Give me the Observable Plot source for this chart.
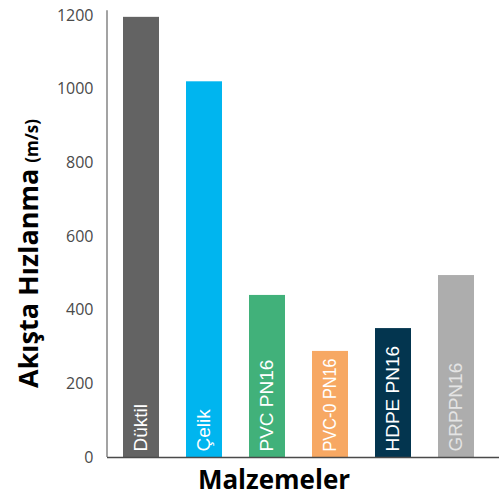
<!DOCTYPE html>
<html>
<head>
<meta charset="utf-8">
<script src="https://cdn.jsdelivr.net/npm/d3@7"></script>
<script src="https://cdn.jsdelivr.net/npm/@observablehq/plot@0.6"></script>
<style>
  html, body { margin: 0; padding: 0; background: #fff; }
  #chart { width: 499px; height: 496px; }
  #chart g[aria-label="text"] text { font-family: "Liberation Sans", Arial, sans-serif; }
  #chart g[aria-label="y-axis tick label"] text { font-family: "Open Sans", sans-serif; }
</style>
</head>
<body>
<div id="chart"></div>
<script>
const categories = ["Düktil", "Çelik", "PVC PN16", "PVC-0 PN16", "HDPE PN16", "GRPPN16"];
const values = [1195, 1020, 440, 288, 350, 494];
const barColors = ["#636363", "#00b5ef", "#41b17a", "#f7a863", "#03354f", "#adadad"];
const labelColors = ["#ffffff", "#ffffff", "#ffffff", "#ffffff", "#ffffff", "#e4e4e4"];
const yTicks = [0, 200, 400, 600, 800, 1000, 1200];
const yTitle = "Akışta Hızlanma";
const yUnit = "(m/s)";
const xTitle = "Malzemeler";

const data = categories.map((c, i) => ({cat: c, value: values[i], color: barColors[i], lab: labelColors[i]}));

const W = 499, H = 496, ML = 107;
const chart = Plot.plot({
  width: W,
  height: H,
  marginLeft: ML,
  marginRight: 0,
  marginTop: 15,
  marginBottom: 39,
  style: {background: "#fff", fontFamily: "Open Sans"},
  x: {domain: categories, range: [107, 490], paddingInner: 0.43, paddingOuter: 0.25, axis: null},
  y: {domain: [0, 1200], axis: null},
  marks: [
    Plot.barY(data, {x: "cat", y: "value", fill: "color"}),
    Plot.axisY({ticks: yTicks, tickSize: 0, tickPadding: 14, tickFormat: d => String(d), fontSize: 16, fill: "#4a4a4a", label: null}),
    Plot.ruleY([0], {stroke: "#4a4a4a", strokeWidth: 1.5}),
    Plot.text(data, {x: "cat", y: 0, text: "cat", rotate: -90, textAnchor: "start", dy: -6, dx: -1, fill: "lab", fontSize: 19})
  ]
});

document.getElementById("chart").appendChild(chart);
const svg = d3.select(chart);
const y = chart.scale("y");

// vertical axis line
svg.append("line")
  .attr("x1", ML).attr("x2", ML)
  .attr("y1", y.apply(1213)).attr("y2", y.apply(0))
  .attr("stroke", "#666").attr("stroke-width", 1.2);

// squeeze bar labels that do not fit inside their bar
svg.selectAll('g[aria-label="text"] text').each(function(d, i) {
  const avail = (y.apply(0) - y.apply(values[i])) - 13;
  const len = this.getComputedTextLength();
  if (len > avail) {
    this.setAttribute("textLength", avail);
    this.setAttribute("lengthAdjust", "spacingAndGlyphs");
  }
});

svg.append("text")
  .attr("transform", "translate(38,388) rotate(-90)")
  .attr("text-anchor", "start")
  .attr("font-family", "Open Sans")
  .attr("font-weight", "bold")
  .attr("fill", "#000")
  .call(t => {
    t.append("tspan").attr("font-size", 27).text(yTitle);
    t.append("tspan").attr("font-size", 17).attr("dx", 6).text(yUnit);
  });
svg.append("text")
  .attr("x", 274)
  .attr("y", 489)
  .attr("text-anchor", "middle")
  .attr("font-family", "Open Sans")
  .attr("font-weight", "bold")
  .attr("font-size", 26)
  .attr("fill", "#000")
  .text(xTitle);
</script>
</body>
</html>
